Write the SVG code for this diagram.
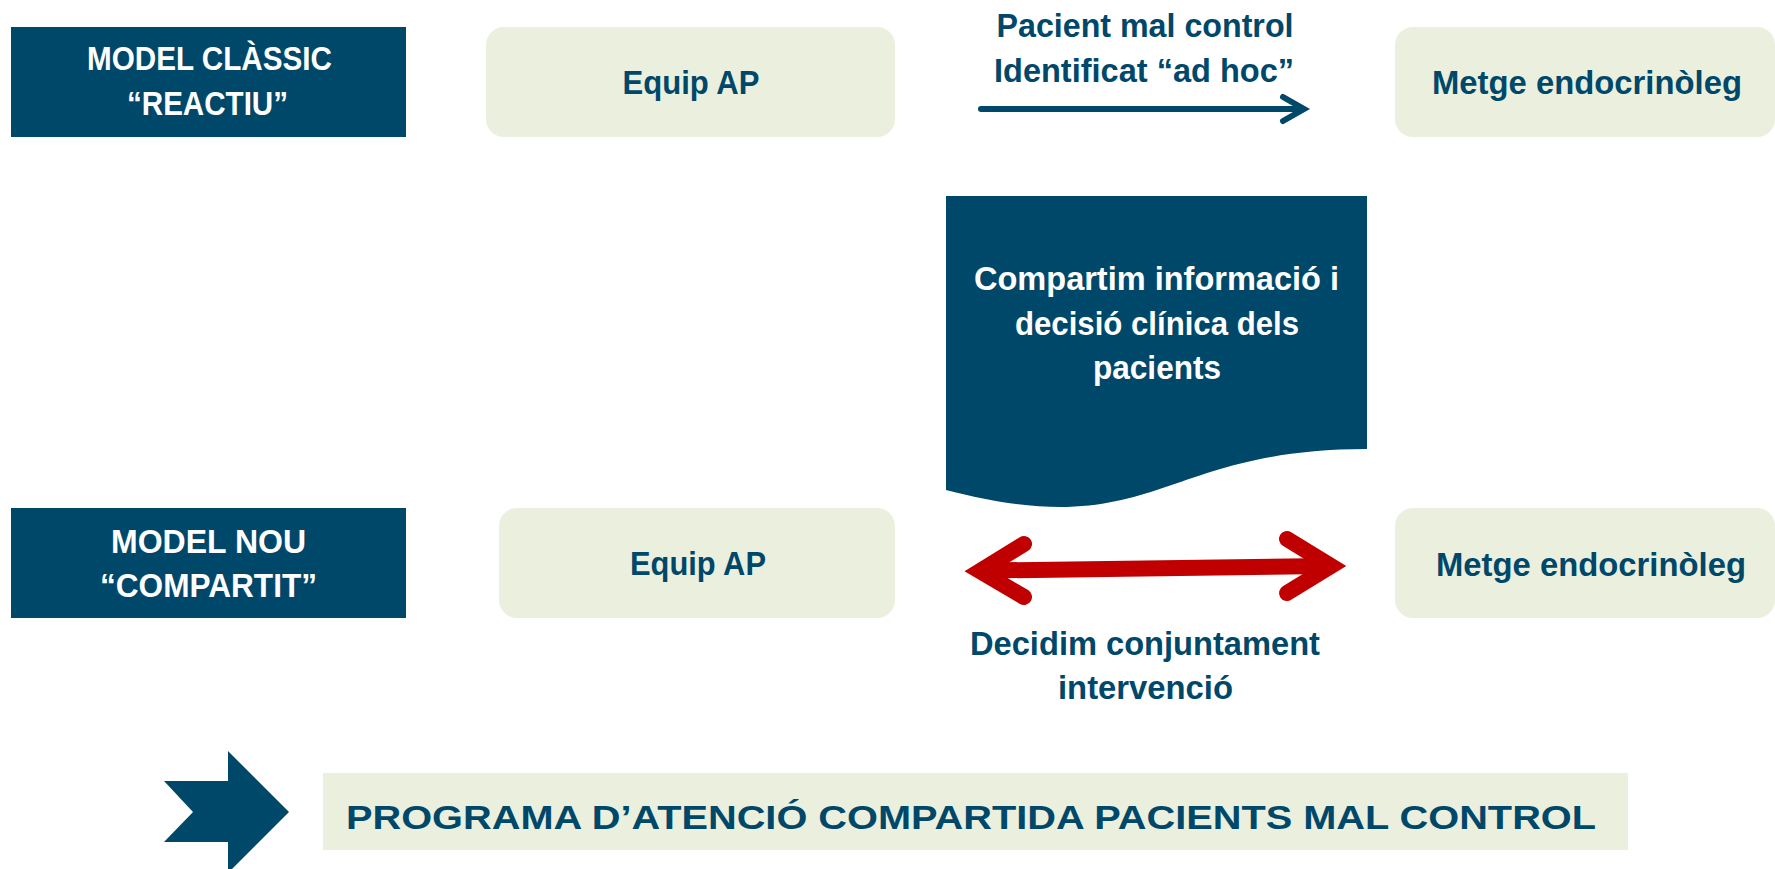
<svg xmlns="http://www.w3.org/2000/svg" width="1775" height="869" viewBox="0 0 1775 869">
<style>
.dark{fill:#00486A}
.light{fill:#EBF0DE}
text{font-family:"Liberation Sans",Arial,sans-serif;font-weight:bold;font-size:33px;text-anchor:middle}
.w{fill:#FFFFFF}
.b{fill:#00486A}
.blue{fill:none;stroke:#00486A;stroke-width:6;stroke-linecap:round;stroke-linejoin:miter}
.red{fill:none;stroke:#C00000;stroke-width:16;stroke-linecap:round;stroke-linejoin:miter}
</style>
<rect width="1775" height="869" fill="#FFFFFF"/>
<g id="model-classic">
<rect class="dark" x="11" y="27" width="395" height="110"/>
<text class="w" x="209.5" y="70" textLength="245" lengthAdjust="spacingAndGlyphs">MODEL CLÀSSIC</text>
<text class="w" x="207.5" y="115" textLength="161" lengthAdjust="spacingAndGlyphs">“REACTIU”</text>
</g>
<g id="equip-ap-top">
<rect class="light" x="486" y="27" width="409" height="110" rx="18"/>
<text class="b" x="691" y="94" textLength="137" lengthAdjust="spacingAndGlyphs">Equip AP</text>
</g>
<g id="metge-top">
<rect class="light" x="1395" y="27" width="380" height="110" rx="18"/>
<text class="b" x="1587" y="94" textLength="310" lengthAdjust="spacingAndGlyphs">Metge endocrinòleg</text>
</g>
<g id="label-top">
<text class="b" x="1145" y="37" textLength="297" lengthAdjust="spacingAndGlyphs">Pacient mal control</text>
<text class="b" x="1144" y="82" textLength="300" lengthAdjust="spacingAndGlyphs">Identificat “ad hoc”</text>
</g>
<g id="compartim">
<path class="dark" d="M946,196 H1367 V449 C1156.5,449 1156.5,545 946,490 Z"/>
<text class="w" x="1156.5" y="290" textLength="365" lengthAdjust="spacingAndGlyphs">Compartim informació i</text>
<text class="w" x="1157" y="335" textLength="284" lengthAdjust="spacingAndGlyphs">decisió clínica dels</text>
<text class="w" x="1157" y="379" textLength="128" lengthAdjust="spacingAndGlyphs">pacients</text>
</g>
<g id="model-nou">
<rect class="dark" x="11" y="508" width="395" height="110"/>
<text class="w" x="208.5" y="553" textLength="195" lengthAdjust="spacingAndGlyphs">MODEL NOU</text>
<text class="w" x="208.5" y="597" textLength="217" lengthAdjust="spacingAndGlyphs">“COMPARTIT”</text>
</g>
<g id="equip-ap-bottom">
<rect class="light" x="499" y="508" width="396" height="110" rx="18"/>
<text class="b" x="698" y="575" textLength="136" lengthAdjust="spacingAndGlyphs">Equip AP</text>
</g>
<g id="metge-bottom">
<rect class="light" x="1395" y="508" width="380" height="110" rx="18"/>
<text class="b" x="1591" y="576" textLength="310" lengthAdjust="spacingAndGlyphs">Metge endocrinòleg</text>
</g>
<g id="label-bottom">
<text class="b" x="1145" y="655" textLength="350" lengthAdjust="spacingAndGlyphs">Decidim conjuntament</text>
<text class="b" x="1145.5" y="699" textLength="175" lengthAdjust="spacingAndGlyphs">intervenció</text>
</g>
<g id="connectors">
<line class="blue" x1="981" y1="109" x2="1302" y2="109"/>
<path class="blue" d="M1283,97 L1304,109 L1283,121"/>
<line class="red" x1="988" y1="570.5" x2="1326" y2="566" stroke-linecap="butt"/>
<path class="red" d="M1024,544 L980,571 L1024,597"/>
<path class="red" d="M1287,539 L1331,566 L1287,593"/>
</g>
<g id="programa">
<polygon class="dark" points="164,781 228,781 228,751 289,812 228,873 228,842 164,842 193,812"/>
<rect class="light" x="323" y="773" width="1305" height="77"/>
<text class="b" x="971" y="829" font-size="46" textLength="1250" lengthAdjust="spacingAndGlyphs">PROGRAMA D’ATENCIÓ COMPARTIDA PACIENTS MAL CONTROL</text>
</g>
</svg>
